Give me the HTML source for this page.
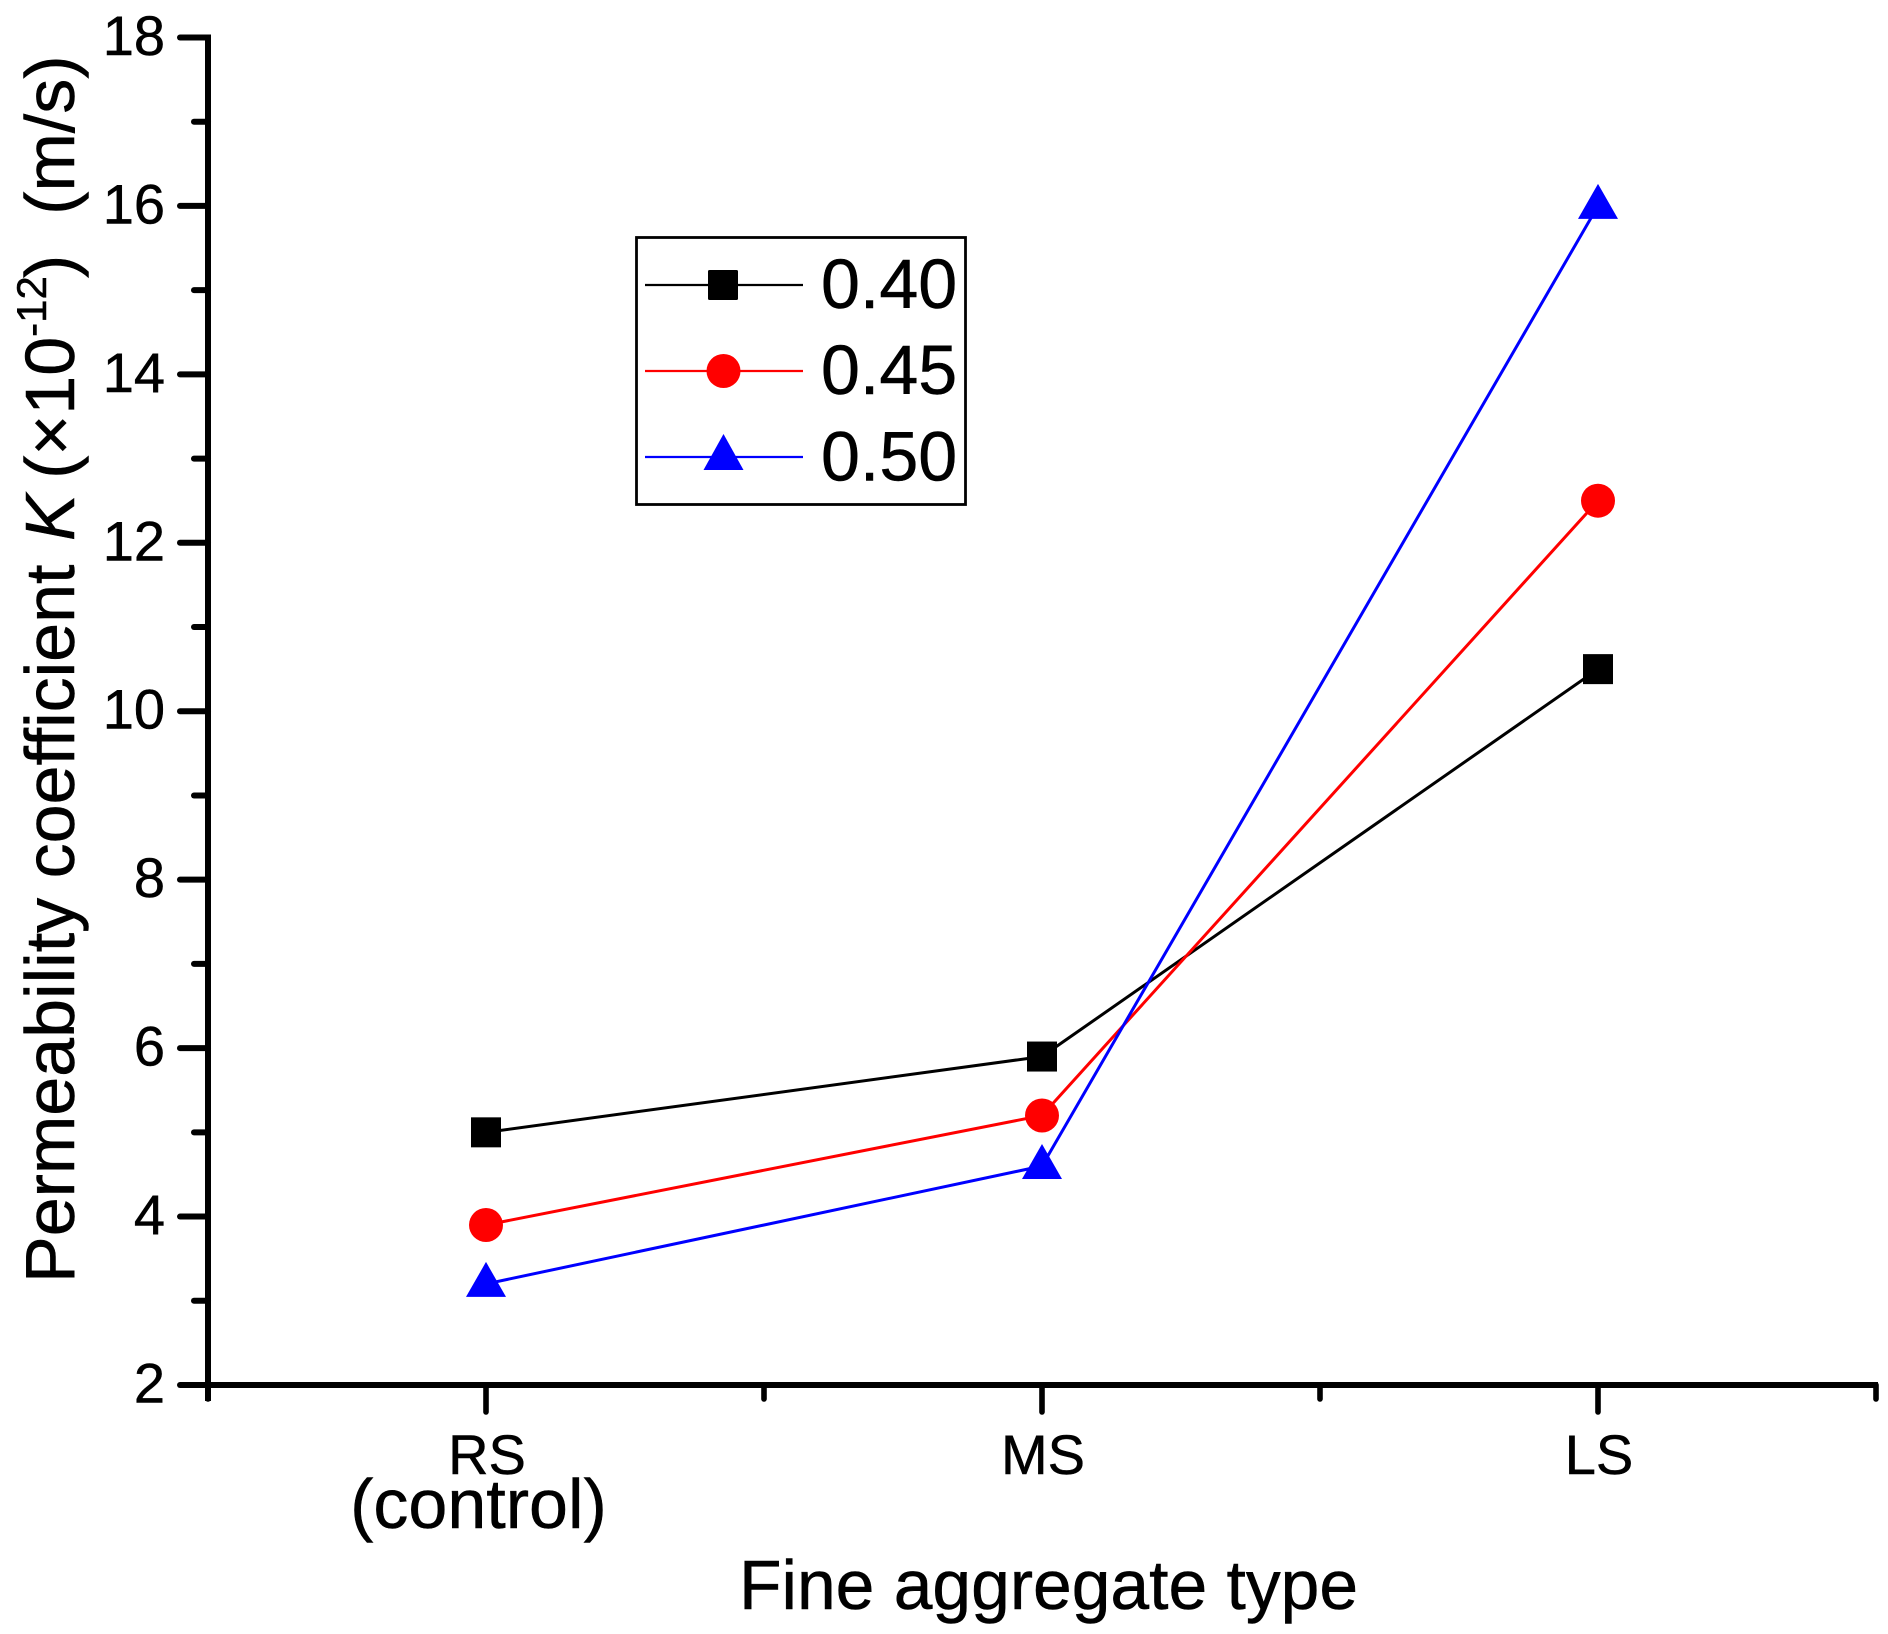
<!DOCTYPE html>
<html lang="en">
<head>
<meta charset="utf-8">
<title>Permeability coefficient by fine aggregate type</title>
<style>
html,body{margin:0;padding:0;background:#fff;width:1888px;height:1634px;overflow:hidden}
svg{display:block}
text{font-family:"Liberation Sans",sans-serif;fill:#000;stroke:#000;stroke-width:.5}
</style>
</head>
<body>
<svg id="chart" xmlns="http://www.w3.org/2000/svg" width="1888" height="1634" viewBox="0 0 1888 1634">
  <rect x="0" y="0" width="1888" height="1634" fill="#fff"/>
  <g id="axes"></g>
  <g id="series"></g>

  <text transform="translate(74 1283) rotate(-90)" font-size="70" xml:space="preserve">Permeability coefficient <tspan dx="4" font-style="italic">K</tspan><tspan dx="-4"> (×10</tspan><tspan font-size="42" dy="-28">-12</tspan><tspan dy="28" dx="-2">)</tspan><tspan dx="40">(m/s)</tspan></text>
  <text x="739" y="1609" font-size="69.6">Fine aggregate type</text>

  <g>
    <rect x="636.5" y="237.5" width="329" height="267" fill="#fff" stroke="#000" stroke-width="2.8"/>
    <g>
      <line x1="645" y1="285" x2="803" y2="285" stroke="#000" stroke-width="2.2"/>
      <rect x="708" y="270" width="30" height="30" rx="1.5" fill="#000"/>
      <text x="821" y="308" font-size="70">0.40</text>
    </g>
    <g>
      <line x1="645" y1="371" x2="803" y2="371" stroke="#f00" stroke-width="2.2"/>
      <circle cx="723.5" cy="371" r="17" fill="#f00"/>
      <text x="821" y="394" font-size="70">0.45</text>
    </g>
    <g>
      <line x1="645" y1="457" x2="803" y2="457" stroke="#00f" stroke-width="2.2"/>
      <polygon points="723.5,434 743.5,470 703.5,470" fill="#00f"/>
      <text x="821" y="480.5" font-size="70">0.50</text>
    </g>
  </g>
</svg>
<script>
const categories = ['RS', 'MS', 'LS'];
const seriesNames = ['0.40', '0.45', '0.50'];
const seriesColors = ['#000', '#f00', '#00f'];
const values040 = [5, 5.9, 10.5];
const values045 = [3.9, 5.2, 12.5];
const values050 = [3.2, 4.6, 16];
const yMajorTicks = [2, 4, 6, 8, 10, 12, 14, 16, 18];
const yMinorTicks = [3, 5, 7, 9, 11, 13, 15, 17];
const xMinorTicks = [-0.5, 0.5, 1.5, 2.5];

const NS = 'http://www.w3.org/2000/svg';
const axes = document.getElementById('axes');
const seriesLayer = document.getElementById('series');

function xScale(i) { return 486 + (i * 556); }
function yScale(v) { return 1385 - ((v - 2) * 84.22); }

function make(tag, parent, attrs) {
  const el = document.createElementNS(NS, tag);
  Object.keys(attrs).forEach(function (k) { el.setAttribute(k, attrs[k]); });
  parent.appendChild(el);
  return el;
}

/* axis lines */
const yAxisLine = make('line', axes, { x1: 208, y1: yScale(18) - 3, x2: 208, y2: 1401, stroke: '#000', 'stroke-width': 6 });


const xAxisLine = make('line', axes, { x1: 208, y1: 1385, x2: 1878, y2: 1385, stroke: '#000', 'stroke-width': 6 });



/* y ticks */
yMajorTicks.forEach(function (v) {
  const t = make('line', axes, { x1: 180, y1: yScale(v), x2: 208, y2: yScale(v), stroke: '#000', 'stroke-width': 6, 'stroke-linecap': 'round' });
  
  
  const l = make('text', axes, { x: 165, y: yScale(v) + 17.5, 'font-size': 56, 'text-anchor': 'end' });
  l.textContent = String(v);
  
  
});
yMinorTicks.forEach(function (v) {
  const t = make('line', axes, { x1: 194, y1: yScale(v), x2: 208, y2: yScale(v), stroke: '#000', 'stroke-width': 6, 'stroke-linecap': 'round' });
  
  
});

/* x ticks */
categories.forEach(function (c, i) {
  const t = make('line', axes, { x1: xScale(i), y1: 1385, x2: xScale(i), y2: 1412, stroke: '#000', 'stroke-width': 5.6, 'stroke-linecap': 'round' });
  
  
  const l = make('text', axes, { x: xScale(i) + 1, y: 1474, 'font-size': 56, 'text-anchor': 'middle' });
  l.textContent = c;
  
  
});
xMinorTicks.forEach(function (v) {
  const t = make('line', axes, { x1: xScale(v), y1: 1385, x2: xScale(v), y2: 1399, stroke: '#000', 'stroke-width': 5.6, 'stroke-linecap': 'round' });
  
  
});
const controlLabel = make('text', axes, { x: 478.5, y: 1528, 'font-size': 70, 'text-anchor': 'middle' });
controlLabel.textContent = '(control)';



/* series */
[values040, values045, values050].forEach(function (vals, s) {
  const pts = vals.map(function (v, i) { return xScale(i) + ',' + yScale(v); }).join(' ');
  const line = make('polyline', seriesLayer, { points: pts, fill: 'none', stroke: seriesColors[s], 'stroke-width': 3 });
  
  
});
[values040, values045, values050].forEach(function (vals, s) {
  vals.forEach(function (v, i) {
    const cx = xScale(i);
    const cy = yScale(v);
    let m;
    if (s === 0) {
      m = make('rect', seriesLayer, { x: cx - 15, y: cy - 15, width: 30, height: 30, fill: seriesColors[s] });
    } else if (s === 1) {
      m = make('circle', seriesLayer, { cx: cx, cy: cy, r: 17, fill: seriesColors[s] });
    } else {
      m = make('polygon', seriesLayer, { points: cx + ',' + (cy - 22) + ' ' + (cx + 20) + ',' + (cy + 13) + ' ' + (cx - 20) + ',' + (cy + 13), fill: seriesColors[s] });
    }
    
    
  });
});
</script>
</body>
</html>
